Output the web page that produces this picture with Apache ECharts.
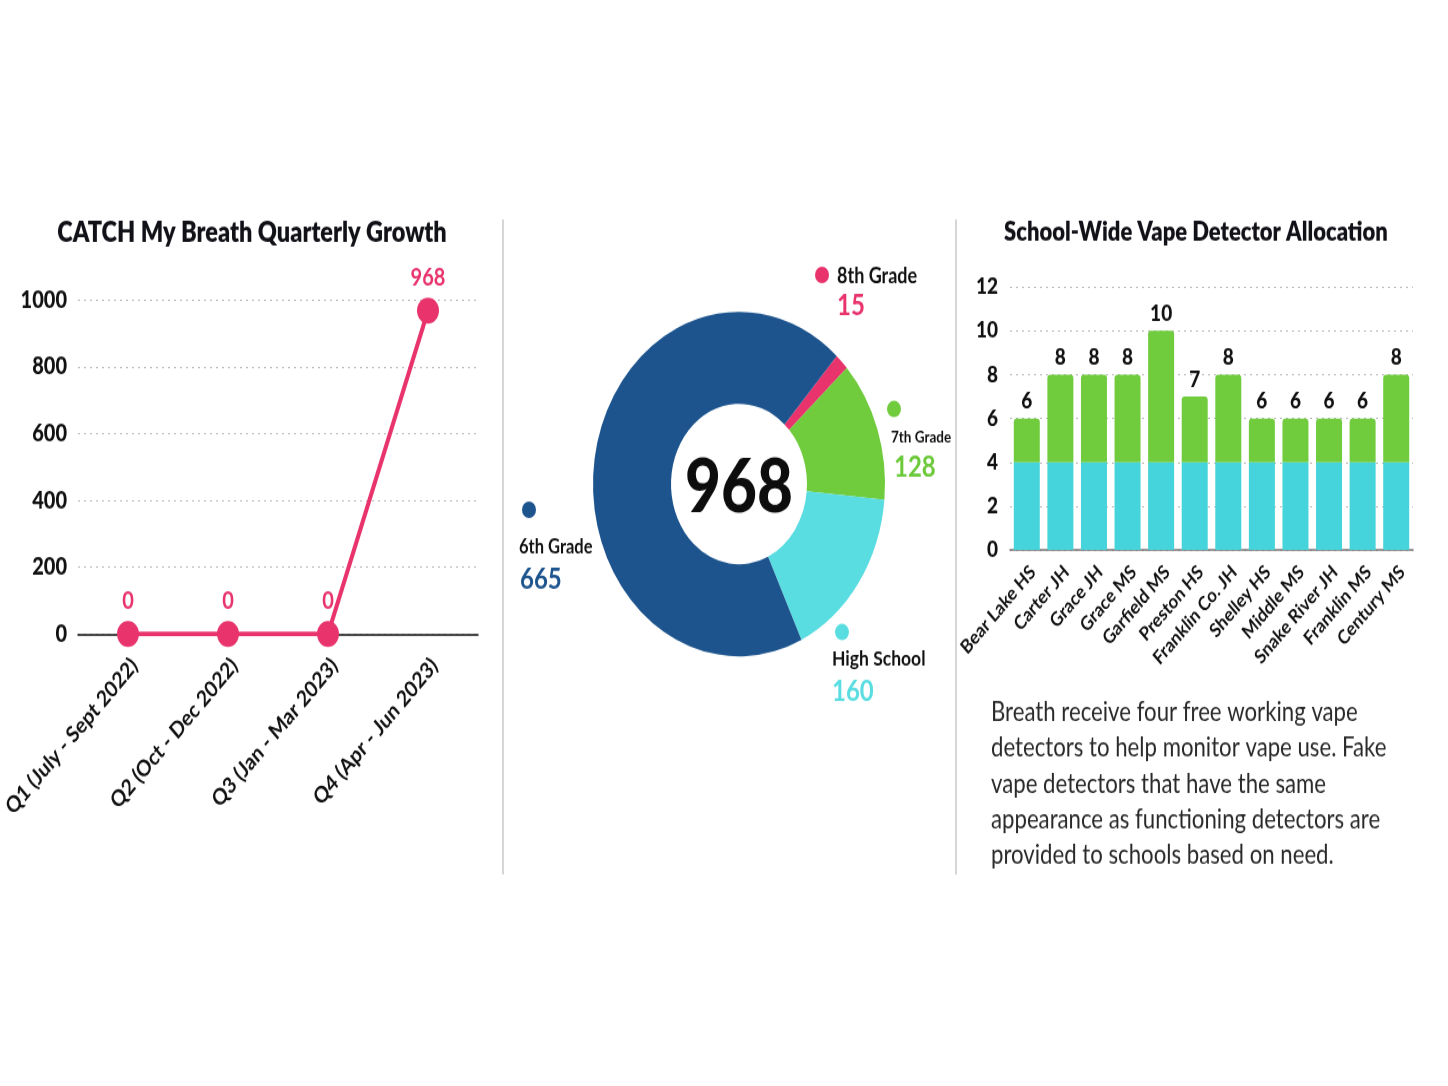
<!DOCTYPE html>
<html><head><meta charset="utf-8">
<script src="https://cdn.jsdelivr.net/npm/echarts@6/dist/echarts.min.js"></script>
<style>
html,body{margin:0;padding:0;background:#fff;overflow:hidden;}
#wrap{width:1448px;height:1086px;overflow:hidden;position:relative;background:#fff;}
#chart{width:1448px;height:920px;transform:scaleY(1.18);transform-origin:0 0;}
</style></head><body><div id="wrap"><div id="chart"></div></div>
<script>
// ---- data ----
const quarters = ['Q1 (July - Sept 2022)', 'Q2 (Oct - Dec 2022)', 'Q3 (Jan - Mar 2023)', 'Q4 (Apr - Jun 2023)'];
const participants = [0, 0, 0, 968];
const gradeNames = ['8th Grade', '7th Grade', 'High School', '6th Grade'];
const gradeValues = [15, 128, 160, 665];
const schools = ['Bear Lake HS', 'Carter JH', 'Grace JH', 'Grace MS', 'Garfield MS', 'Preston HS', 'Franklin Co. JH', 'Shelley HS', 'Middle MS', 'Snake River JH', 'Franklin MS', 'Century MS'];
const workingDetectors = [4, 4, 4, 4, 4, 4, 4, 4, 4, 4, 4, 4];
const fakeDetectors = [2, 4, 4, 4, 6, 3, 4, 2, 2, 2, 2, 4];
const paragraphLines = [
  'Breath receive four free working vape',
  'detectors to help monitor vape use. Fake',
  'vape detectors that have the same',
  'appearance as functioning detectors are',
  'provided to schools based on need.'
];
const lineTitle = 'CATCH My Breath Quarterly Growth';
const barTitle = 'School-Wide Vape Detector Allocation';

// ---- styles ----
const FF = 'Lato, "Open Sans", sans-serif';
const PINK = '#e8336d', GREEN = '#70cc3d', BLUE = '#1d548e', CYAN = '#5adde1', BARCYAN = '#45d4db';
const gradeColors = [PINK, GREEN, CYAN, BLUE];
const gradeTextColors = [PINK, '#6cc93a', CYAN, BLUE];
const total = gradeValues.reduce((a, b) => a + b, 0);

const chart = echarts.init(document.getElementById('chart'), null, {renderer: 'canvas'});

const dotted = {lineStyle: {type: [2, 4], color: '#b8b8b8', width: 1}};

// label layout for donut annotations (positions in chart px)
const gradeLabelLayout = [
  {dot: [822, 233], name: [837, 234, 18], val: [837, 259.5]},
  {dot: [894, 346.6], name: [891, 371, 13.5], val: [894, 396]},
  {dot: [842, 535.6], name: [832, 558.5, 17.5], val: [832, 586.4]},
  {dot: [529, 432], name: [519, 463.6, 16.5], val: [520, 491.5]}
];
const graphics = [
  {type: 'line', shape: {x1: 503, y1: 186, x2: 503, y2: 741}, style: {stroke: '#c9c9c9', lineWidth: 1.5}},
  {type: 'line', shape: {x1: 956, y1: 186, x2: 956, y2: 741}, style: {stroke: '#c9c9c9', lineWidth: 1.5}},
  {type: 'text', x: 252, y: 197.5, style: {text: lineTitle, font: '800 23.5px ' + FF, fill: '#111118', textAlign: 'center', align: 'center', textVerticalAlign: 'middle', verticalAlign: 'middle'}},
  {type: 'text', x: 1196, y: 196.6, style: {text: barTitle, font: '800 22px ' + FF, fill: '#111118', textAlign: 'center', align: 'center', textVerticalAlign: 'middle', verticalAlign: 'middle'}},
  {type: 'text', x: 739, y: 413.6, style: {text: String(total), font: '900 62px ' + FF, fill: '#0d0d0d', textAlign: 'center', align: 'center', textVerticalAlign: 'middle', verticalAlign: 'middle'}},
  {type: 'text', x: 991, y: 589, style: {text: paragraphLines.join('\n'), font: '400 22.2px ' + FF, lineHeight: 30.2, fill: '#2a2a2a', textAlign: 'left', align: 'left', textVerticalAlign: 'top', verticalAlign: 'top'}}
];
gradeNames.forEach((n, i) => {
  const L = gradeLabelLayout[i];
  graphics.push({type: 'circle', shape: {cx: L.dot[0], cy: L.dot[1], r: 7}, style: {fill: gradeColors[i]}});
  graphics.push({type: 'text', x: L.name[0], y: L.name[1], style: {text: n, font: '700 ' + L.name[2] + 'px ' + FF, fill: '#111', textAlign: 'left', align: 'left', textVerticalAlign: 'middle', verticalAlign: 'middle'}});
  graphics.push({type: 'text', x: L.val[0], y: L.val[1], style: {text: String(gradeValues[i]), font: '700 24px ' + FF, fill: gradeTextColors[i], textAlign: 'left', align: 'left', textVerticalAlign: 'middle', verticalAlign: 'middle'}});
});

const option = {
  backgroundColor: '#fff',
  animation: false,
  textStyle: {fontFamily: FF},
  grid: [
    {left: 78, right: 970, top: 254.2, bottom: 382.7, containLabel: false, outerBoundsMode: 'none'},
    {left: 1010, right: 35, top: 243.2, bottom: 453.9, containLabel: false, outerBoundsMode: 'none'}
  ],
  xAxis: [
    {type: 'category', gridIndex: 0, data: quarters, boundaryGap: true,
      axisTick: {show: false}, axisLine: {lineStyle: {color: '#111', width: 1.5}},
      axisLabel: {rotate: 45, interval: 0, fontSize: 19, fontWeight: 700, color: '#111', margin: 17, verticalAlign: 'top', fontFamily: FF}},
    {type: 'category', gridIndex: 1, data: schools, boundaryGap: true,
      axisTick: {show: false}, axisLine: {lineStyle: {color: '#777', width: 1.5}},
      axisLabel: {rotate: 45, interval: 0, fontSize: 16.5, fontWeight: 700, color: '#111', margin: 10, verticalAlign: 'top', fontFamily: FF}}
  ],
  yAxis: [
    {type: 'value', gridIndex: 0, min: 0, max: 1000, interval: 200,
      axisLine: {show: false}, axisTick: {show: false}, splitLine: dotted,
      axisLabel: {fontSize: 20, fontWeight: 900, color: '#111', margin: 11, fontFamily: FF, formatter: v => String(v)}},
    {type: 'value', gridIndex: 1, min: 0, max: 12, interval: 2,
      axisLine: {show: false}, axisTick: {show: false}, splitLine: dotted,
      axisLabel: {fontSize: 19, fontWeight: 900, color: '#111', margin: 12, fontFamily: FF}}
  ],
  series: [
    {type: 'line', xAxisIndex: 0, yAxisIndex: 0, data: participants, symbol: 'circle', symbolSize: 22,
      lineStyle: {color: PINK, width: 4}, itemStyle: {color: PINK},
      label: {show: true, position: 'top', distance: 7, color: PINK, fontSize: 20, fontWeight: 700, fontFamily: FF},
      silent: true, z: 3},
    {type: 'bar', xAxisIndex: 1, yAxisIndex: 1, stack: 'det', data: workingDetectors, barWidth: 26,
      itemStyle: {color: BARCYAN}, silent: true},
    {type: 'bar', xAxisIndex: 1, yAxisIndex: 1, stack: 'det', data: fakeDetectors, barWidth: 26,
      itemStyle: {color: GREEN, borderRadius: [3, 3, 0, 0]}, silent: true,
      label: {show: true, position: 'top', distance: 5, fontSize: 19, fontWeight: 900, color: '#111', fontFamily: FF,
        formatter: p => String(workingDetectors[p.dataIndex] + fakeDetectors[p.dataIndex])}},
    {type: 'pie', center: [739, 410.2], radius: [68, 146], startAngle: 48, clockwise: true,
      label: {show: false}, labelLine: {show: false}, silent: true,
      emphasis: {disabled: true},
      data: gradeNames.map((n, i) => ({name: n, value: gradeValues[i], itemStyle: {color: gradeColors[i]}}))}
  ],
  graphic: graphics
};
chart.setOption(option);
</script></body></html>
